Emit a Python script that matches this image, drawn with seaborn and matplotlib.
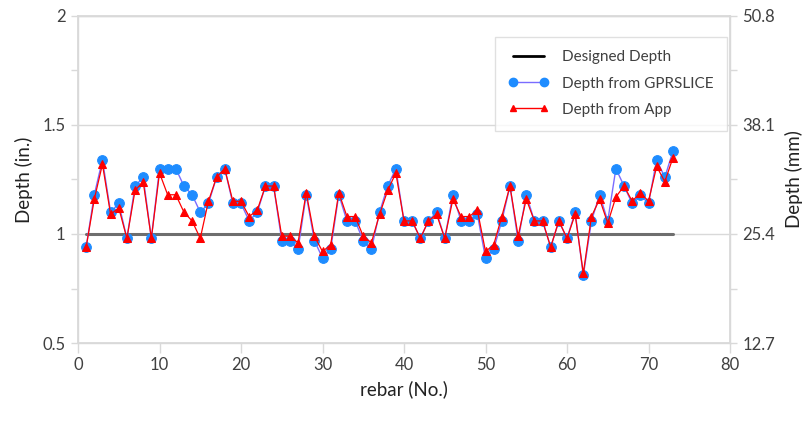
import matplotlib
matplotlib.use("Agg")
import matplotlib.pyplot as plt
from matplotlib.lines import Line2D
from matplotlib.ticker import MultipleLocator, FixedLocator
import seaborn as sns

# Rebar numbers along the scan line
rebar = list(range(1, 74))

# Cover depth (in.) from the GPRSLICE analysis
depth_gprslice = [
    0.94, 1.18, 1.34, 1.10, 1.14, 0.98, 1.22, 1.26, 0.98, 1.30,
    1.30, 1.30, 1.22, 1.18, 1.10, 1.14, 1.26, 1.30, 1.14, 1.14,
    1.06, 1.10, 1.22, 1.22, 0.97, 0.97, 0.93, 1.18, 0.97, 0.89,
    0.93, 1.18, 1.06, 1.06, 0.97, 0.93, 1.10, 1.22, 1.30, 1.06,
    1.06, 0.98, 1.06, 1.10, 0.98, 1.18, 1.06, 1.06, 1.09, 0.89,
    0.93, 1.06, 1.22, 0.97, 1.18, 1.06, 1.06, 0.94, 1.06, 0.98,
    1.10, 0.81, 1.06, 1.18, 1.06, 1.30, 1.22, 1.14, 1.18, 1.14,
    1.34, 1.26, 1.38,
]

# Cover depth (in.) reported by the mobile App
depth_app = [
    0.94, 1.16, 1.32, 1.09, 1.12, 0.98, 1.20, 1.24, 0.98, 1.28,
    1.18, 1.18, 1.10, 1.06, 0.98, 1.15, 1.26, 1.30, 1.15, 1.15,
    1.08, 1.11, 1.22, 1.22, 0.99, 0.99, 0.96, 1.19, 0.99, 0.92,
    0.95, 1.19, 1.08, 1.08, 0.99, 0.96, 1.09, 1.20, 1.28, 1.06,
    1.06, 0.98, 1.06, 1.09, 0.98, 1.16, 1.08, 1.08, 1.11, 0.92,
    0.95, 1.08, 1.22, 0.99, 1.16, 1.06, 1.06, 0.94, 1.06, 0.98,
    1.09, 0.82, 1.08, 1.16, 1.05, 1.17, 1.22, 1.15, 1.19, 1.15,
    1.31, 1.24, 1.35,
]

# Designed cover depth (in.) over the scanned span
designed_x = [1, 73]
designed_depth = [1.0, 1.0]

series_labels = ["Designed Depth", "Depth from GPRSLICE", "Depth from App"]
in_ticks = [0.5, 1, 1.5, 2]
mm_ticks = [12.7, 25.4, 38.1, 50.8]

sns.set_theme(style="white")
plt.rcParams["font.family"] = ["Lato", "DejaVu Sans"]

GRID = "#d9d9d9"
TEXT = "#404040"
BLUE = "#1e8cff"
BLUE_LINE = "#7a6cff"
RED = "#ff0000"
DESIGN = "#6e6e6e"

fig = plt.figure(figsize=(8.12, 4.21), dpi=100)
ax = fig.add_axes([78 / 812, 78 / 421, 652 / 812, 327 / 421])

sns.lineplot(x=designed_x, y=designed_depth, ax=ax, color=DESIGN,
             linewidth=2.2, zorder=2)
sns.lineplot(x=rebar, y=depth_gprslice, ax=ax, color=BLUE_LINE, linewidth=1.0,
             marker="o", markersize=7.0, markerfacecolor=BLUE,
             markeredgecolor=BLUE, zorder=3)
sns.lineplot(x=rebar, y=depth_app, ax=ax, color=RED, linewidth=0.9,
             marker="^", markersize=5.5, markerfacecolor=RED,
             markeredgecolor=RED, zorder=4)

ax.set_xlim(0, 80)
ax.set_ylim(0.5, 2)
ax.xaxis.set_major_locator(MultipleLocator(10))
ax.yaxis.set_major_locator(FixedLocator(in_ticks))
ax.yaxis.set_minor_locator(MultipleLocator(0.25))
ax.set_yticklabels([f"{t:g}" for t in in_ticks])
ax.grid(axis="y", which="major", color=GRID, linewidth=1.0, zorder=0)
ax.set_axisbelow(True)

for side, spine in ax.spines.items():
    spine.set_color(GRID)
    spine.set_linewidth(1.0)

ax.tick_params(axis="both", which="both", direction="out", color=GRID,
               labelcolor=TEXT, labelsize=12)
ax.tick_params(axis="y", which="both", length=5, width=1, pad=4)
ax.tick_params(axis="x", which="major", length=7, width=1, pad=3, bottom=True)

ax.set_xlabel("rebar (No.)", fontsize=13.5, color="#222222", labelpad=5)
ax.set_ylabel("Depth (in.)", fontsize=13.5, color="#222222", labelpad=7)

# Secondary axis in millimetres
ax2 = ax.twinx()
ax2.set_ylim(0.5 * 25.4, 2 * 25.4)
ax2.yaxis.set_major_locator(FixedLocator(mm_ticks))
ax2.yaxis.set_minor_locator(MultipleLocator(6.35))
ax2.set_yticklabels([f"{t:.1f}" for t in mm_ticks])
ax2.tick_params(axis="y", which="both", direction="out", length=5, width=1,
                color=GRID, labelcolor=TEXT, labelsize=12, pad=4)
for spine in ax2.spines.values():
    spine.set_color(GRID)
ax2.set_ylabel("Depth (mm)", fontsize=13.5, color="#222222", labelpad=7)
ax2.grid(False)

handles = [
    Line2D([], [], color="black", linewidth=2.0),
    Line2D([], [], color=BLUE_LINE, linewidth=1.0, marker="o", markersize=6,
           markerfacecolor=BLUE, markeredgecolor=BLUE),
    Line2D([], [], color=RED, linewidth=1.0, marker="^", markersize=4.5,
           markerfacecolor=RED, markeredgecolor=RED),
]
leg = ax2.legend(handles, series_labels, loc="upper right",
                 bbox_to_anchor=(0.996, 0.937), borderaxespad=0,
                 frameon=True, fancybox=False, fontsize=11,
                 handlelength=2.6, labelspacing=0.8, borderpad=0.9,
                 handletextpad=0.9, numpoints=2)
leg.get_frame().set_edgecolor(GRID)
leg.get_frame().set_linewidth(1.0)
for t in leg.get_texts():
    t.set_color(TEXT)

fig.savefig("out.png", dpi=100)
